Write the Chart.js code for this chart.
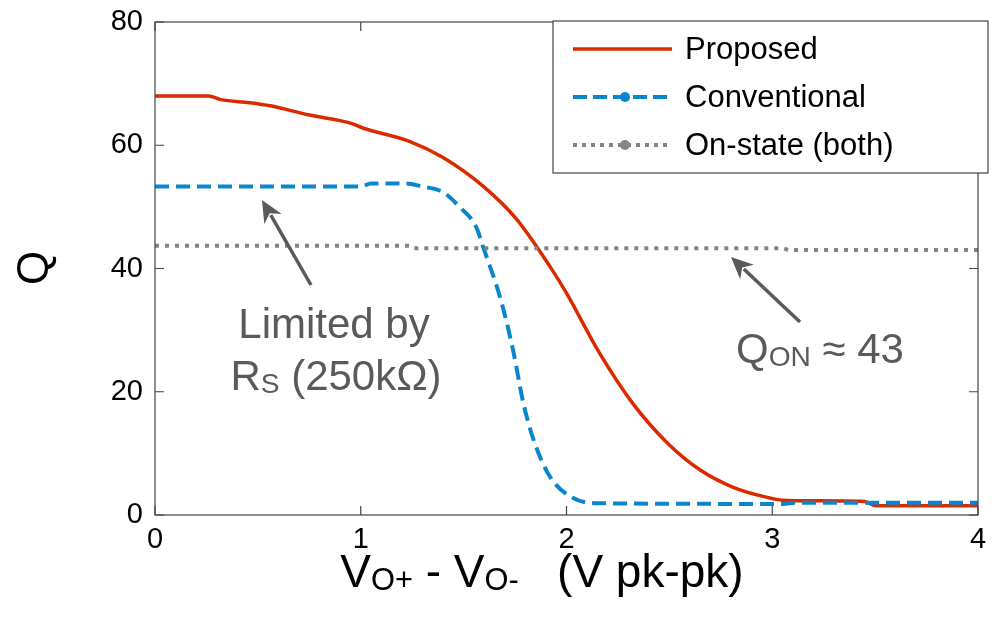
<!DOCTYPE html>
<html>
<head>
<meta charset="UTF-8">
<script src="https://cdn.jsdelivr.net/npm/chart.js@4"></script>
<style>
html, body { margin: 0; padding: 0; background: #fff; }
#wrap { width: 998px; height: 621px; }
</style>
</head>
<body>
<div id="wrap"><canvas id="c" width="998" height="621"></canvas></div>
<script>
// valores
const propX = [0, 0.26, 0.32, 0.46, 0.56, 0.75, 0.95, 1.01, 1.24, 1.40, 1.60, 1.76, 1.92, 2.0, 2.16, 2.32, 2.49, 2.65, 2.81, 2.97, 3.05, 3.2, 3.45, 3.5, 4.0];
const propQ = [68, 68, 67.4, 66.9, 66.4, 64.9, 63.6, 62.8, 60.6, 58, 53.2, 47.9, 40.3, 36, 26.3, 18.2, 11.7, 7.3, 4.5, 2.9, 2.4, 2.3, 2.2, 1.5, 1.5];
const convX = [0, 1.0, 1.05, 1.22, 1.30, 1.40, 1.48, 1.56, 1.60, 1.68, 1.74, 1.79, 1.84, 1.92, 2.03, 2.16, 3.05, 3.12, 4.0];
const convQ = [53.3, 53.3, 53.8, 53.8, 53.3, 52.4, 50, 46.8, 43, 35, 26.8, 18.2, 12.2, 6.2, 2.8, 1.9, 1.8, 2.0, 2.0];
const onX = [0, 1.24, 1.26, 3.05, 3.08, 4.0];
const onQ = [43.7, 43.7, 43.3, 43.3, 43.0, 43.0];
const xTicks = [0, 1, 2, 3, 4];
const yTicks = [0, 20, 40, 60, 80];

const RED = '#dc2a00', BLUE = '#0a86cd', GRAY = '#848484', ANN = '#5a5a5a';
const FONT = '"Liberation Sans", Arial, sans-serif';

function pts(xs, ys) { return xs.map((x, i) => ({ x: x, y: ys[i] })); }

// texto con subindices: partes [texto, esSub]
function richText(ctx, parts, x, y, size, color, align) {
  ctx.save();
  ctx.fillStyle = color;
  ctx.textBaseline = 'alphabetic';
  ctx.textAlign = 'left';
  let w = 0;
  parts.forEach(p => { ctx.font = (p[1] ? size * 0.67 : size) + 'px ' + FONT; w += ctx.measureText(p[0]).width; });
  let cx = align === 'center' ? x - w / 2 : x;
  parts.forEach(p => {
    ctx.font = (p[1] ? size * 0.67 : size) + 'px ' + FONT;
    ctx.fillText(p[0], cx, p[1] ? y + size * 0.07 : y);
    cx += ctx.measureText(p[0]).width;
  });
  ctx.restore();
}

function arrow(ctx, x1, y1, x2, y2) {
  const a = Math.atan2(y2 - y1, x2 - x1);
  const L = 22, W = 10;
  ctx.save();
  ctx.strokeStyle = ANN; ctx.fillStyle = ANN; ctx.lineWidth = 3.5;
  ctx.beginPath();
  ctx.moveTo(x1, y1);
  ctx.lineTo(x2 - Math.cos(a) * L * 0.8, y2 - Math.sin(a) * L * 0.8);
  ctx.stroke();
  ctx.beginPath();
  ctx.moveTo(x2, y2);
  ctx.lineTo(x2 - Math.cos(a) * L + Math.sin(a) * W, y2 - Math.sin(a) * L - Math.cos(a) * W);
  ctx.lineTo(x2 - Math.cos(a) * L * 0.7, y2 - Math.sin(a) * L * 0.7);
  ctx.lineTo(x2 - Math.cos(a) * L - Math.sin(a) * W, y2 - Math.sin(a) * L + Math.cos(a) * W);
  ctx.closePath();
  ctx.fill();
  ctx.restore();
}

const extras = {
  id: 'extras',
  afterDraw(chart) {
    const ctx = chart.ctx, a = chart.chartArea;
    const xs = chart.scales.x, ys = chart.scales.y;
    // caja y ticks interiores
    ctx.save();
    ctx.strokeStyle = '#444';
    ctx.lineWidth = 1.2;
    ctx.strokeRect(a.left, a.top, a.right - a.left, a.bottom - a.top);
    ctx.beginPath();
    xTicks.forEach(v => {
      const px = xs.getPixelForValue(v);
      ctx.moveTo(px, a.bottom); ctx.lineTo(px, a.bottom - 9);
      ctx.moveTo(px, a.top); ctx.lineTo(px, a.top + 9);
    });
    yTicks.forEach(v => {
      const py = ys.getPixelForValue(v);
      ctx.moveTo(a.left, py); ctx.lineTo(a.left + 9, py);
      ctx.moveTo(a.right, py); ctx.lineTo(a.right - 9, py);
    });
    ctx.stroke();
    ctx.restore();

    // titulos de ejes
    ctx.save();
    ctx.translate(36, 268);
    ctx.rotate(-Math.PI / 2);
    ctx.fillStyle = '#000';
    ctx.font = '44px ' + FONT;
    ctx.textAlign = 'center'; ctx.textBaseline = 'middle';
    ctx.fillText('Q', 0, 0);
    ctx.restore();
    richText(ctx, [['V', 0], ['O+', 1], [' - V', 0], ['O-', 1], ['   (V pk-pk)', 0]], 542, 587, 46, '#000', 'center');

    // anotaciones
    richText(ctx, [['Limited by', 0]], 334, 338, 42, ANN, 'center');
    richText(ctx, [['R', 0], ['S', 1], [' (250k\u03A9)', 0]], 336, 390, 42, ANN, 'center');
    richText(ctx, [['Q', 0], ['ON', 1], [' \u2248 43', 0]], 820, 363, 42, ANN, 'center');
    arrow(ctx, 311, 285, 262, 200);
    arrow(ctx, 800, 322, 731, 257);

    // leyenda
    const lx = 553, ly = 21, lw = 435, lh = 152;
    ctx.save();
    ctx.fillStyle = '#fff';
    ctx.fillRect(lx, ly, lw, lh);
    ctx.strokeStyle = '#444'; ctx.lineWidth = 1.2;
    ctx.strokeRect(lx, ly, lw, lh);
    const rows = [
      { t: 'Proposed', c: RED, d: [], w: 3.5, m: false, y: 49 },
      { t: 'Conventional', c: BLUE, d: [14, 6], w: 4, m: true, y: 97 },
      { t: 'On-state (both)', c: GRAY, d: [4, 5], w: 4, m: true, y: 145 }
    ];
    rows.forEach(r => {
      ctx.strokeStyle = r.c; ctx.lineWidth = r.w; ctx.setLineDash(r.d);
      ctx.beginPath(); ctx.moveTo(573, r.y); ctx.lineTo(672, r.y); ctx.stroke();
      ctx.setLineDash([]);
      if (r.m) { ctx.fillStyle = r.c; ctx.beginPath(); ctx.arc(625, r.y, 5, 0, Math.PI * 2); ctx.fill(); }
      ctx.fillStyle = '#000'; ctx.font = '31px ' + FONT;
      ctx.textAlign = 'left'; ctx.textBaseline = 'middle';
      ctx.fillText(r.t, 685, r.y + 1);
    });
    ctx.restore();
  }
};

new Chart(document.getElementById('c'), {
  type: 'line',
  data: {
    datasets: [
      { label: 'On-state (both)', data: pts(onX, onQ), borderColor: GRAY, borderWidth: 4, borderDash: [4, 6], pointRadius: 0, tension: 0 },
      { label: 'Conventional', data: pts(convX, convQ), borderColor: BLUE, borderWidth: 4, borderDash: [14, 7], pointRadius: 0, tension: 0.35, cubicInterpolationMode: 'monotone' },
      { label: 'Proposed', data: pts(propX, propQ), borderColor: RED, borderWidth: 3.5, pointRadius: 0, tension: 0.35, cubicInterpolationMode: 'monotone' }
    ]
  },
  options: {
    responsive: false,
    animation: false,
    layout: { padding: { top: 22, right: 20, left: 0, bottom: 0 } },
    plugins: { legend: { display: false }, tooltip: { enabled: false } },
    scales: {
      x: {
        type: 'linear', min: 0, max: 4,
        afterBuildTicks: s => { s.ticks = xTicks.map(v => ({ value: v })); },
        afterFit: s => { s.height = 106; s.paddingLeft = 0; s.paddingRight = 0; },
        grid: { display: false, drawTicks: false },
        border: { display: false },
        ticks: { color: '#000', font: { family: FONT, size: 29 }, padding: 8, maxRotation: 0 }
      },
      y: {
        min: 0, max: 80,
        afterBuildTicks: s => { s.ticks = yTicks.map(v => ({ value: v })); },
        afterFit: s => { s.width = 155; s.paddingTop = 0; s.paddingBottom = 0; },
        grid: { display: false, drawTicks: false },
        border: { display: false },
        ticks: { color: '#000', font: { family: FONT, size: 29 }, padding: 12 }
      }
    }
  },
  plugins: [extras]
});
</script>
</body>
</html>
